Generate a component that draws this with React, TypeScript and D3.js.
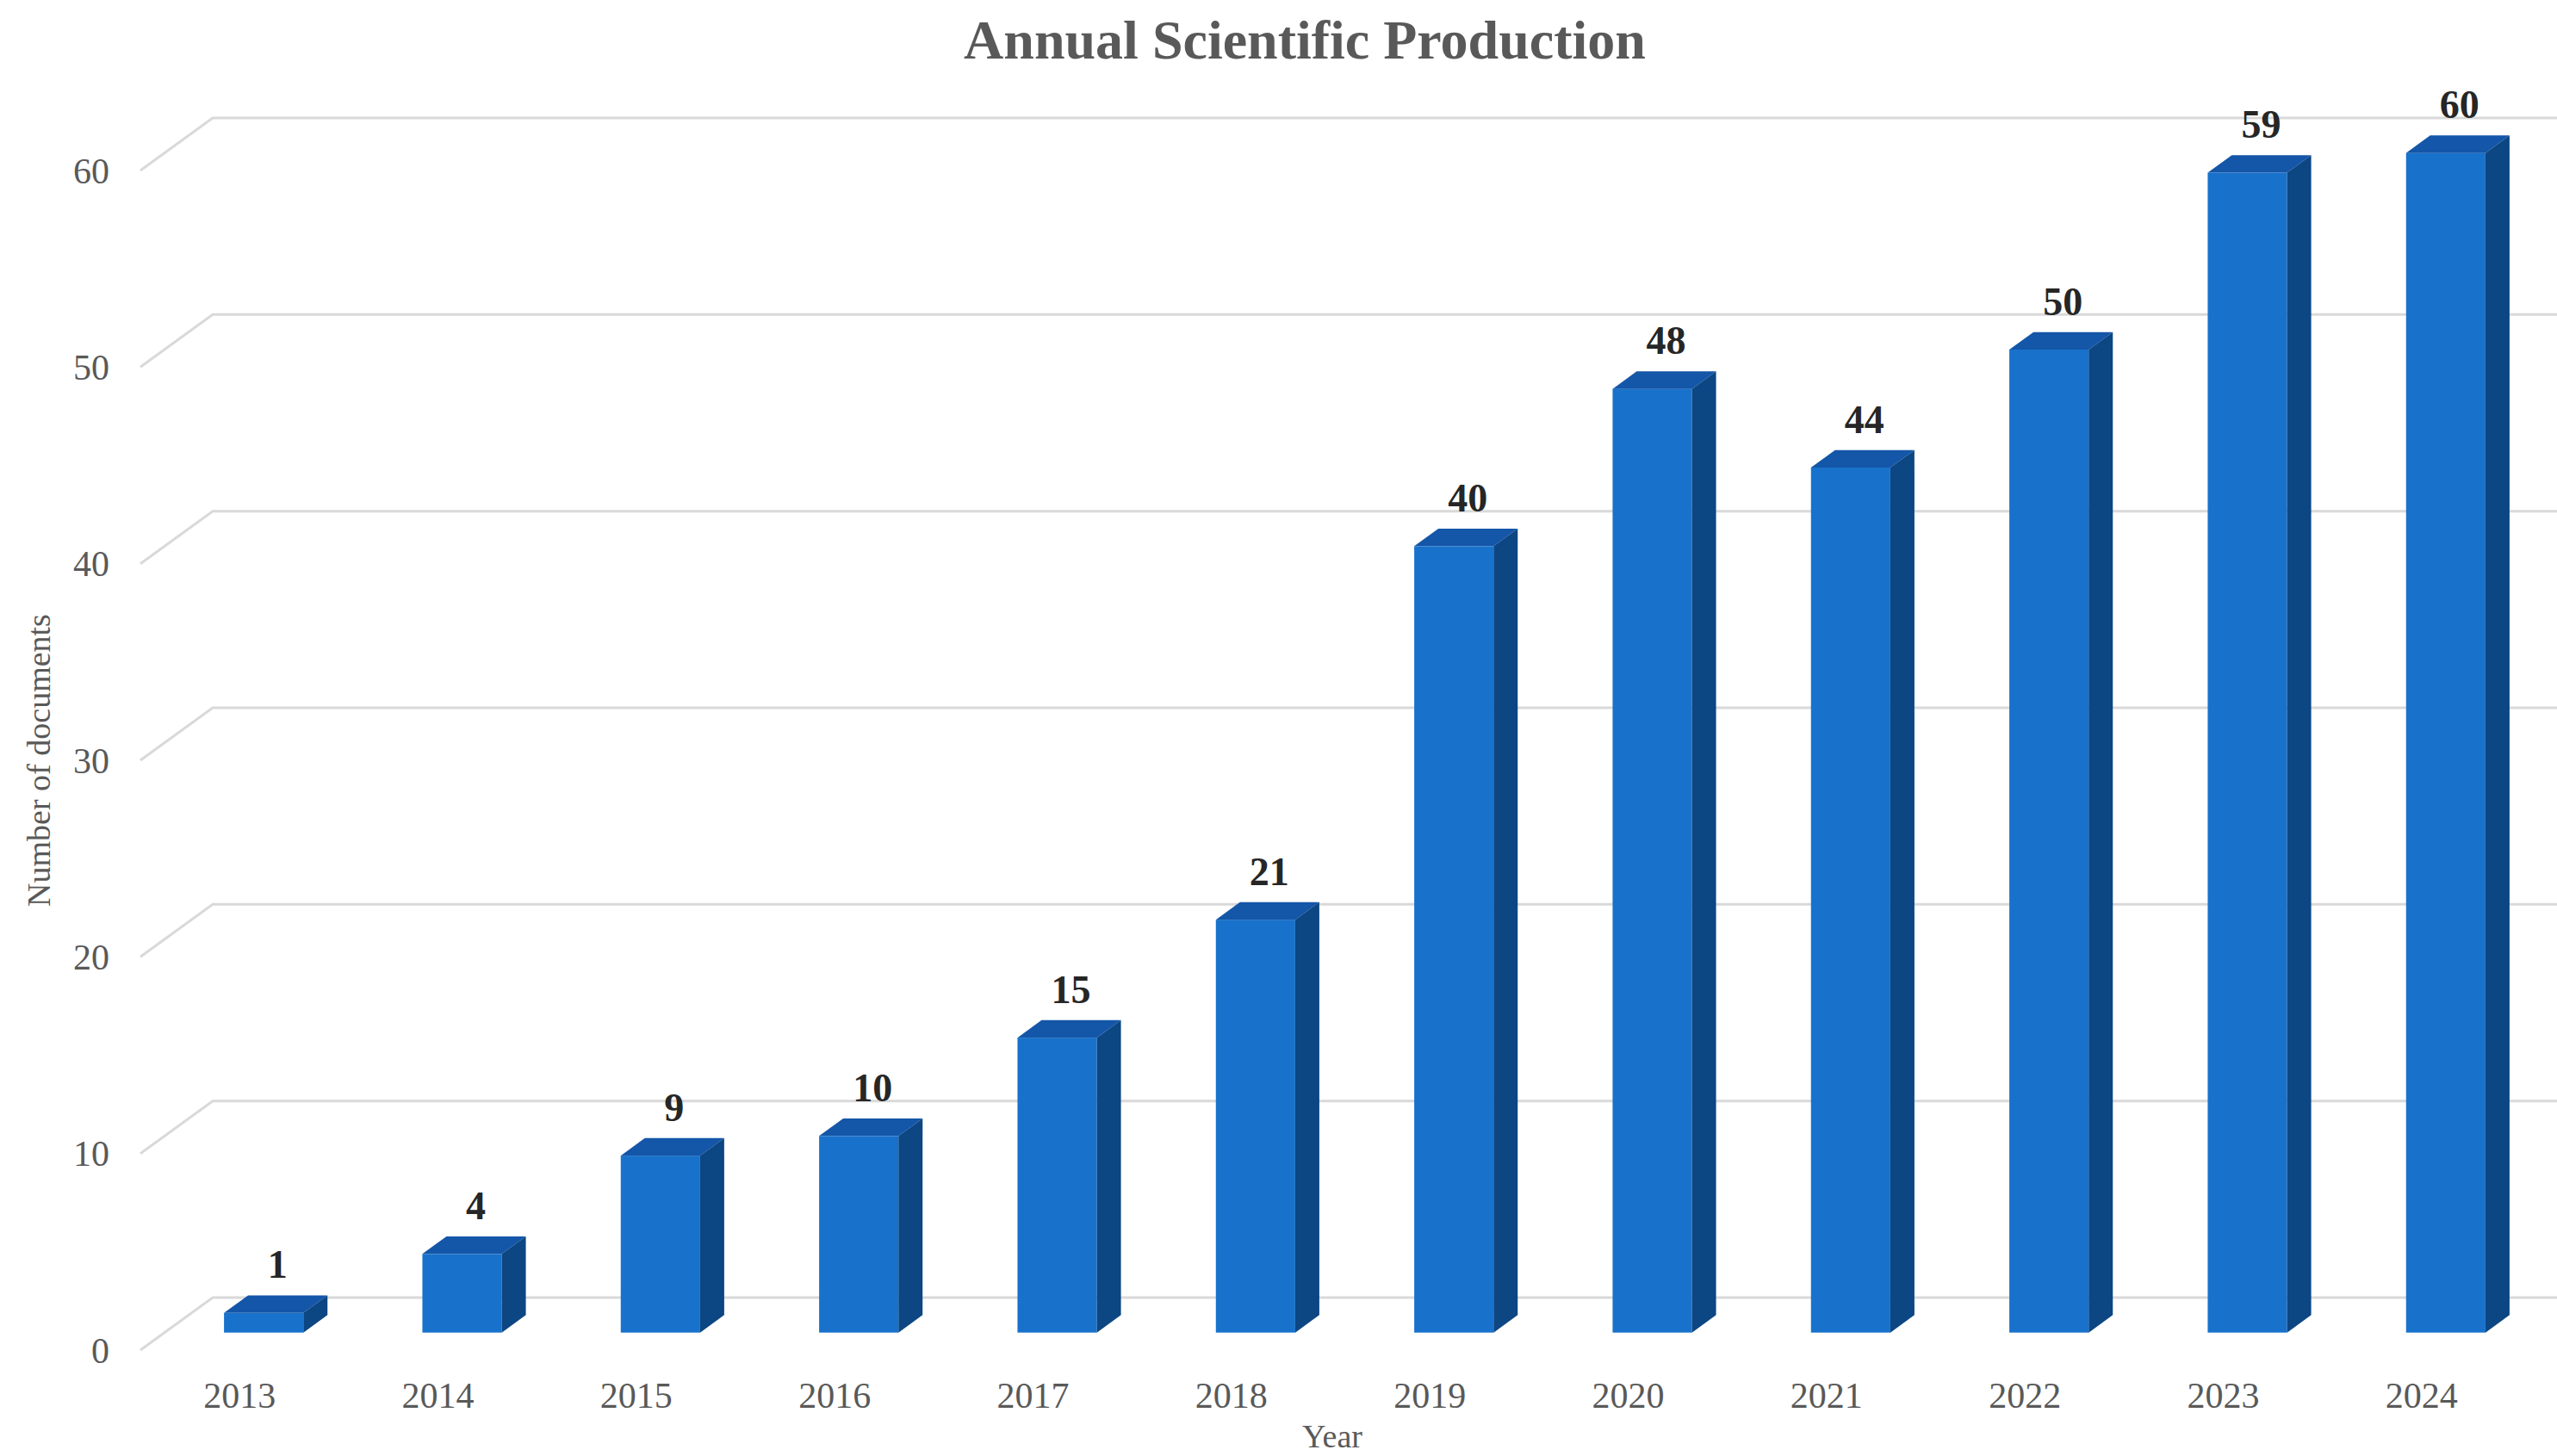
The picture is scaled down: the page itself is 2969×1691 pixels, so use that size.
import React, { useEffect, useRef } from 'react';
import * as d3 from 'd3';

const years = ['2013', '2014', '2015', '2016', '2017', '2018', '2019', '2020', '2021', '2022', '2023', '2024'];
const documents = [1, 4, 9, 10, 15, 21, 40, 48, 44, 50, 59, 60];
const yTicks = [0, 10, 20, 30, 40, 50, 60];

const App = () => {
  const ref = useRef<SVGSVGElement | null>(null);

  useEffect(() => {
    if (ref.current) drawChart(ref.current);
  }, []);

  return (
    <svg
      ref={ref}
      width={2969}
      height={1691}
      style={{ position: 'absolute', left: 0, top: 0, background: '#fff' }}
    />
  );
};

function drawChart(node: SVGSVGElement) {
  const svg = d3.select(node);
  svg.selectAll('*').remove();

  const width = 2969;
  const font = '"Liberation Serif", "Times New Roman", serif';
  const grey = '#595959';

  // front plane of the floor/walls
  const x = d3.scaleBand<string>()
    .domain(years)
    .range([163, 2927])
    .paddingInner(0.6)
    .paddingOuter(0.3);

  const y = d3.scaleLinear()
    .domain([0, 60])
    .range([1568, 198]);

  // oblique depth of the whole box, bars sit in the middle third
  const depthX = 84;
  const depthY = -61;
  const barFront = 1 / 3;
  const barBack = 2 / 3;

  // gridlines: short diagonal on the floor side, then along the back wall
  const grid = svg.append('g');
  yTicks.forEach(t => {
    const y0 = y(t);
    grid.append('polyline')
      .attr('points', `163,${y0} ${163 + depthX},${y0 + depthY} ${width},${y0 + depthY}`)
      .attr('fill', 'none')
      .attr('stroke', '#d9d9d9')
      .attr('stroke-width', 3);
  });

  // y tick labels
  svg.append('g').selectAll('text')
    .data(yTicks)
    .enter()
    .append('text')
    .attr('x', 127)
    .attr('y', d => y(d))
    .attr('dy', '0.35em')
    .attr('text-anchor', 'end')
    .style('font-family', font)
    .style('font-size', '42px')
    .style('fill', grey)
    .text(d => d);

  // bars
  const bw = x.bandwidth();
  const fx = depthX * barFront;
  const fy = depthY * barFront;
  const bx = depthX * (barBack - barFront);
  const by = depthY * (barBack - barFront);

  const bars = svg.append('g').selectAll('g')
    .data(years.map((yr, i) => ({ yr, v: documents[i] })))
    .enter()
    .append('g')
    .attr('transform', d => `translate(${x(d.yr)! + fx},${fy})`);

  // front face
  bars.append('rect')
    .attr('x', 0)
    .attr('y', d => y(d.v))
    .attr('width', bw)
    .attr('height', d => y(0) - y(d.v))
    .attr('fill', '#1872cb');

  // top face
  bars.append('path')
    .attr('d', d => {
      const t = y(d.v);
      return `M0,${t} L${bx},${t + by} L${bw + bx},${t + by} L${bw},${t} Z`;
    })
    .attr('fill', '#1456a8');

  // side face
  bars.append('path')
    .attr('d', d => {
      const t = y(d.v);
      const b = y(0);
      return `M${bw},${t} L${bw + bx},${t + by} L${bw + bx},${b + by} L${bw},${b} Z`;
    })
    .attr('fill', '#0c4683');

  // value labels
  bars.append('text')
    .attr('x', bw / 2 + 16)
    .attr('y', d => y(d.v) + by - 20)
    .attr('text-anchor', 'middle')
    .style('font-family', font)
    .style('font-size', '46px')
    .style('font-weight', 'bold')
    .style('fill', '#262626')
    .text(d => d.v);

  // x tick labels on the front plane
  svg.append('g').selectAll('text')
    .data(years)
    .enter()
    .append('text')
    .attr('x', d => x(d)! + bw / 2)
    .attr('y', 1635)
    .attr('text-anchor', 'middle')
    .style('font-family', font)
    .style('font-size', '42px')
    .style('fill', grey)
    .text(d => d);

  // axis titles
  svg.append('text')
    .attr('x', 1547)
    .attr('y', 1681)
    .attr('text-anchor', 'middle')
    .style('font-family', font)
    .style('font-size', '38px')
    .style('fill', grey)
    .text('Year');

  svg.append('text')
    .attr('transform', `translate(58,${y(30)}) rotate(-90)`)
    .attr('text-anchor', 'middle')
    .style('font-family', font)
    .style('font-size', '38px')
    .style('fill', grey)
    .text('Number of documents');

  // title
  svg.append('text')
    .attr('x', 1515)
    .attr('y', 68)
    .attr('text-anchor', 'middle')
    .style('font-family', font)
    .style('font-size', '64px')
    .style('font-weight', 'bold')
    .style('fill', grey)
    .text('Annual Scientific Production');
}

export default App;
